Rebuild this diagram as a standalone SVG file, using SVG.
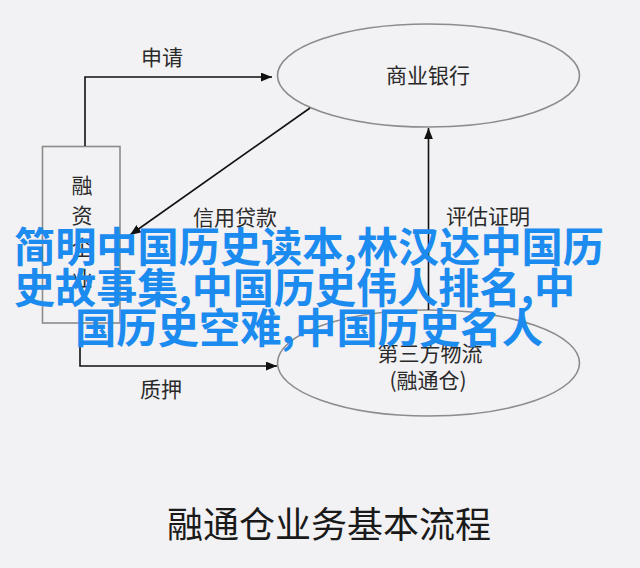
<svg xmlns="http://www.w3.org/2000/svg" width="640" height="568" viewBox="0 0 640 568">
<defs>
<style>
.lbl{font-family:"Noto Sans CJK SC","Noto Sans",sans-serif;font-size:21px;fill:#2a2a2a;text-anchor:middle}
.title{font-family:"Noto Sans CJK SC","Noto Sans",sans-serif;font-size:36px;fill:#1a1a1a;text-anchor:middle}
.ov{font-family:"Noto Sans CJK SC","Noto Sans",sans-serif;font-size:41px;font-weight:bold;fill:#1b8bf0}
.conn{fill:none;stroke:#111;stroke-width:1.6}
.node{fill:none;stroke:#8c8c8c;stroke-width:1.6}
</style>
<marker id="ah" viewBox="0 0 10 8" refX="10" refY="4" markerWidth="11" markerHeight="9" markerUnits="userSpaceOnUse" orient="auto">
<path d="M0,0 L10,4 L0,8 Z" fill="#111"/>
</marker>
</defs>
<rect width="640" height="568" fill="#f2f1f3"/>
<g id="bank">
<ellipse class="node" cx="428.5" cy="75.5" rx="151" ry="51.5"/>
<text class="lbl" x="428" y="83">商业银行</text>
</g>
<g id="borrower">
<rect class="node" x="42.5" y="146.5" width="77.5" height="176.5"/>
<text class="lbl" x="82" y="193">融</text>
<text class="lbl" x="82" y="223">资</text>
<text class="lbl" x="82" y="255">企</text>
<text class="lbl" x="82" y="286">业</text>
</g>
<g id="logistics">
<ellipse class="node" cx="428.5" cy="363" rx="151" ry="53"/>
<text class="lbl" x="430" y="361">第三方物流</text>
<text class="lbl" x="428" y="388">(融通仓)</text>
</g>
<g id="connectors">
<path class="conn" d="M85,146 V77 H272" marker-end="url(#ah)"/>
<path class="conn" d="M310,108 L130,235" marker-end="url(#ah)"/>
<path class="conn" d="M428.5,310 V128" marker-end="url(#ah)"/>
<path class="conn" d="M80,323 V366 H277" marker-end="url(#ah)"/>
<text class="lbl" x="162" y="65">申请</text>
<text class="lbl" x="235" y="225">信用贷款</text>
<text class="lbl" x="488" y="224">评估证明</text>
<text class="lbl" x="161" y="397">质押</text>
</g>
<text class="title" x="329" y="538">融通仓业务基本流程</text>
<g id="overlay">
<text class="ov" x="14" y="262" textLength="590" lengthAdjust="spacingAndGlyphs">简明中国历史读本,林汉达中国历</text>
<text class="ov" x="14" y="303" textLength="561" lengthAdjust="spacingAndGlyphs">史故事集,中国历史伟人排名,中</text>
<text class="ov" x="75" y="343" textLength="468" lengthAdjust="spacingAndGlyphs">国历史空难,中国历史名人</text>
</g>
</svg>
